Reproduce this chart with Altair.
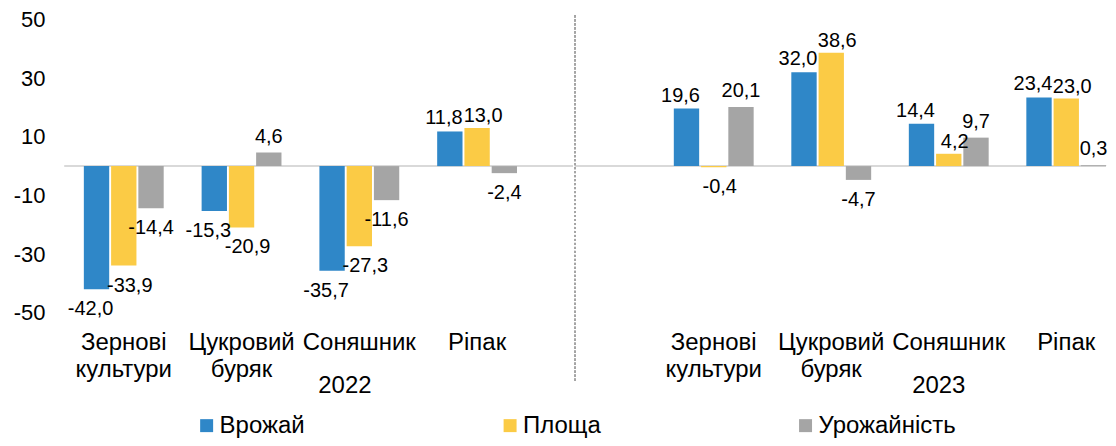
import altair as alt
import pandas as pd

crops = ["Зернові культури", "Цукровий буряк", "Соняшник", "Ріпак"]
series = ["Врожай", "Площа", "Урожайність"]
years = ["2022", "2023"]

harvest_2022 = [-42.0, -15.3, -35.7, 11.8]
area_2022 = [-33.9, -20.9, -27.3, 13.0]
yieldr_2022 = [-14.4, 4.6, -11.6, -2.4]

harvest_2023 = [19.6, 32.0, 14.4, 23.4]
area_2023 = [-0.4, 38.6, 4.2, 23.0]
yieldr_2023 = [20.1, -4.7, 9.7, 0.3]

colors = ["#2f87c8", "#fbcb45", "#a5a5a5"]
y_ticks = [-50, -30, -10, 10, 30, 50]

# label nudges per series (style): (dx, dy for positive, dy for negative)
label_style = {"Врожай": (-6, -3, 10), "Площа": (6, -2, 10), "Урожайність": (0, -6, 10)}

FONT = "Liberation Sans"


def frame(year, arrays):
    rows = []
    for s, vals in zip(series, arrays):
        for c, v in zip(crops, vals):
            rows.append({"year": year, "crop": c, "series": s, "value": v,
                         "label": f"{v:.1f}".replace(".", ",")})
    return pd.DataFrame(rows)


df22 = frame(years[0], [harvest_2022, area_2022, yieldr_2022])
df23 = frame(years[1], [harvest_2023, area_2023, yieldr_2023])

legend = alt.Legend(title=None, orient="none", legendX=130, legendY=395,
                    direction="horizontal", symbolType="square",
                    symbolSize=169, symbolStrokeWidth=0, labelFontSize=24,
                    labelFont=FONT, labelColor="#000000", labelOffset=1,
                    columnPadding=193)


def panel(df, year, width, pad_outer, align, show_y, title_x, separator):
    x = alt.X("crop:N", sort=crops,
              scale=alt.Scale(domain=crops, paddingInner=0.322,
                              paddingOuter=pad_outer, align=align),
              axis=alt.Axis(title=year, labelExpr="split(datum.label, ' ')",
                            labelAngle=0, labelFontSize=24, labelPadding=18,
                            labelLineHeight=27, ticks=False, domain=False,
                            labelOverlap=False, labelColor="#000000",
                            labelFont=FONT, titleFont=FONT,
                            titleX=title_x, titleY=73, titleBaseline="middle",
                            titleAlign="center", titleFontSize=24,
                            titleFontWeight="normal", titleColor="#000000"))
    if show_y:
        yaxis = alt.Axis(values=y_ticks, title=None, grid=False, domain=False,
                         ticks=False, tickSize=0, labelFontSize=22,
                         labelExpr="'' + datum.value",
                         labelPadding=20, labelColor="#000000", labelFont=FONT)
    else:
        yaxis = None
    yscale = alt.Scale(domain=[-50, 50], nice=False)
    y = alt.Y("value:Q", scale=yscale, axis=yaxis)
    xo = alt.XOffset("series:N",
                     scale=alt.Scale(domain=series, paddingInner=0.07))
    color = alt.Color("series:N",
                      scale=alt.Scale(domain=series, range=colors),
                      legend=legend)
    base = alt.Chart(df)
    zero = base.transform_calculate(z="0").mark_rule(
        color="#d9d9d9", strokeWidth=2).encode(
        y=alt.Y("z:Q", scale=yscale, axis=yaxis))
    bars = base.mark_bar().encode(x=x, xOffset=xo, y=y, color=color)
    layers = [zero, bars]
    for s in series:
        dx, dyp, dyn = label_style[s]
        pos = base.mark_text(baseline="bottom", dx=dx, dy=dyp, fontSize=20,
                             font=FONT, color="#000000").encode(
            x=x, xOffset=xo, y=y, text="label:N").transform_filter(
            f"datum.value >= 0 && datum.series == '{s}'")
        neg = base.mark_text(baseline="top", dx=dx, dy=dyn, fontSize=20,
                             font=FONT, color="#000000").encode(
            x=x, xOffset=xo, y=y, text="label:N").transform_filter(
            f"datum.value < 0 && datum.series == '{s}'")
        layers += [pos, neg]
    if separator:
        sep = base.mark_rule(
            color="#a6a6a6", strokeWidth=1, strokeDash=[2, 2]).encode(
            x=alt.value(0), y=alt.value(-4), y2=alt.value(363))
        layers.append(sep)
    return alt.layer(*layers).properties(width=width, height=294)


left = panel(df22, years[0], 509, 0.318, 0.253, True, 280, False)
right = panel(df23, years[1], 532, 0.4206, 1.0, False, 364, True)

chart = alt.hconcat(left, right, spacing=0).resolve_scale(
    x="independent", y="independent"
).properties(
    padding={"left": 5, "top": 0, "right": 0, "bottom": 0}
).configure_view(stroke=None)

chart.save("out.html", embed_options={"renderer": "svg", "actions": False})
